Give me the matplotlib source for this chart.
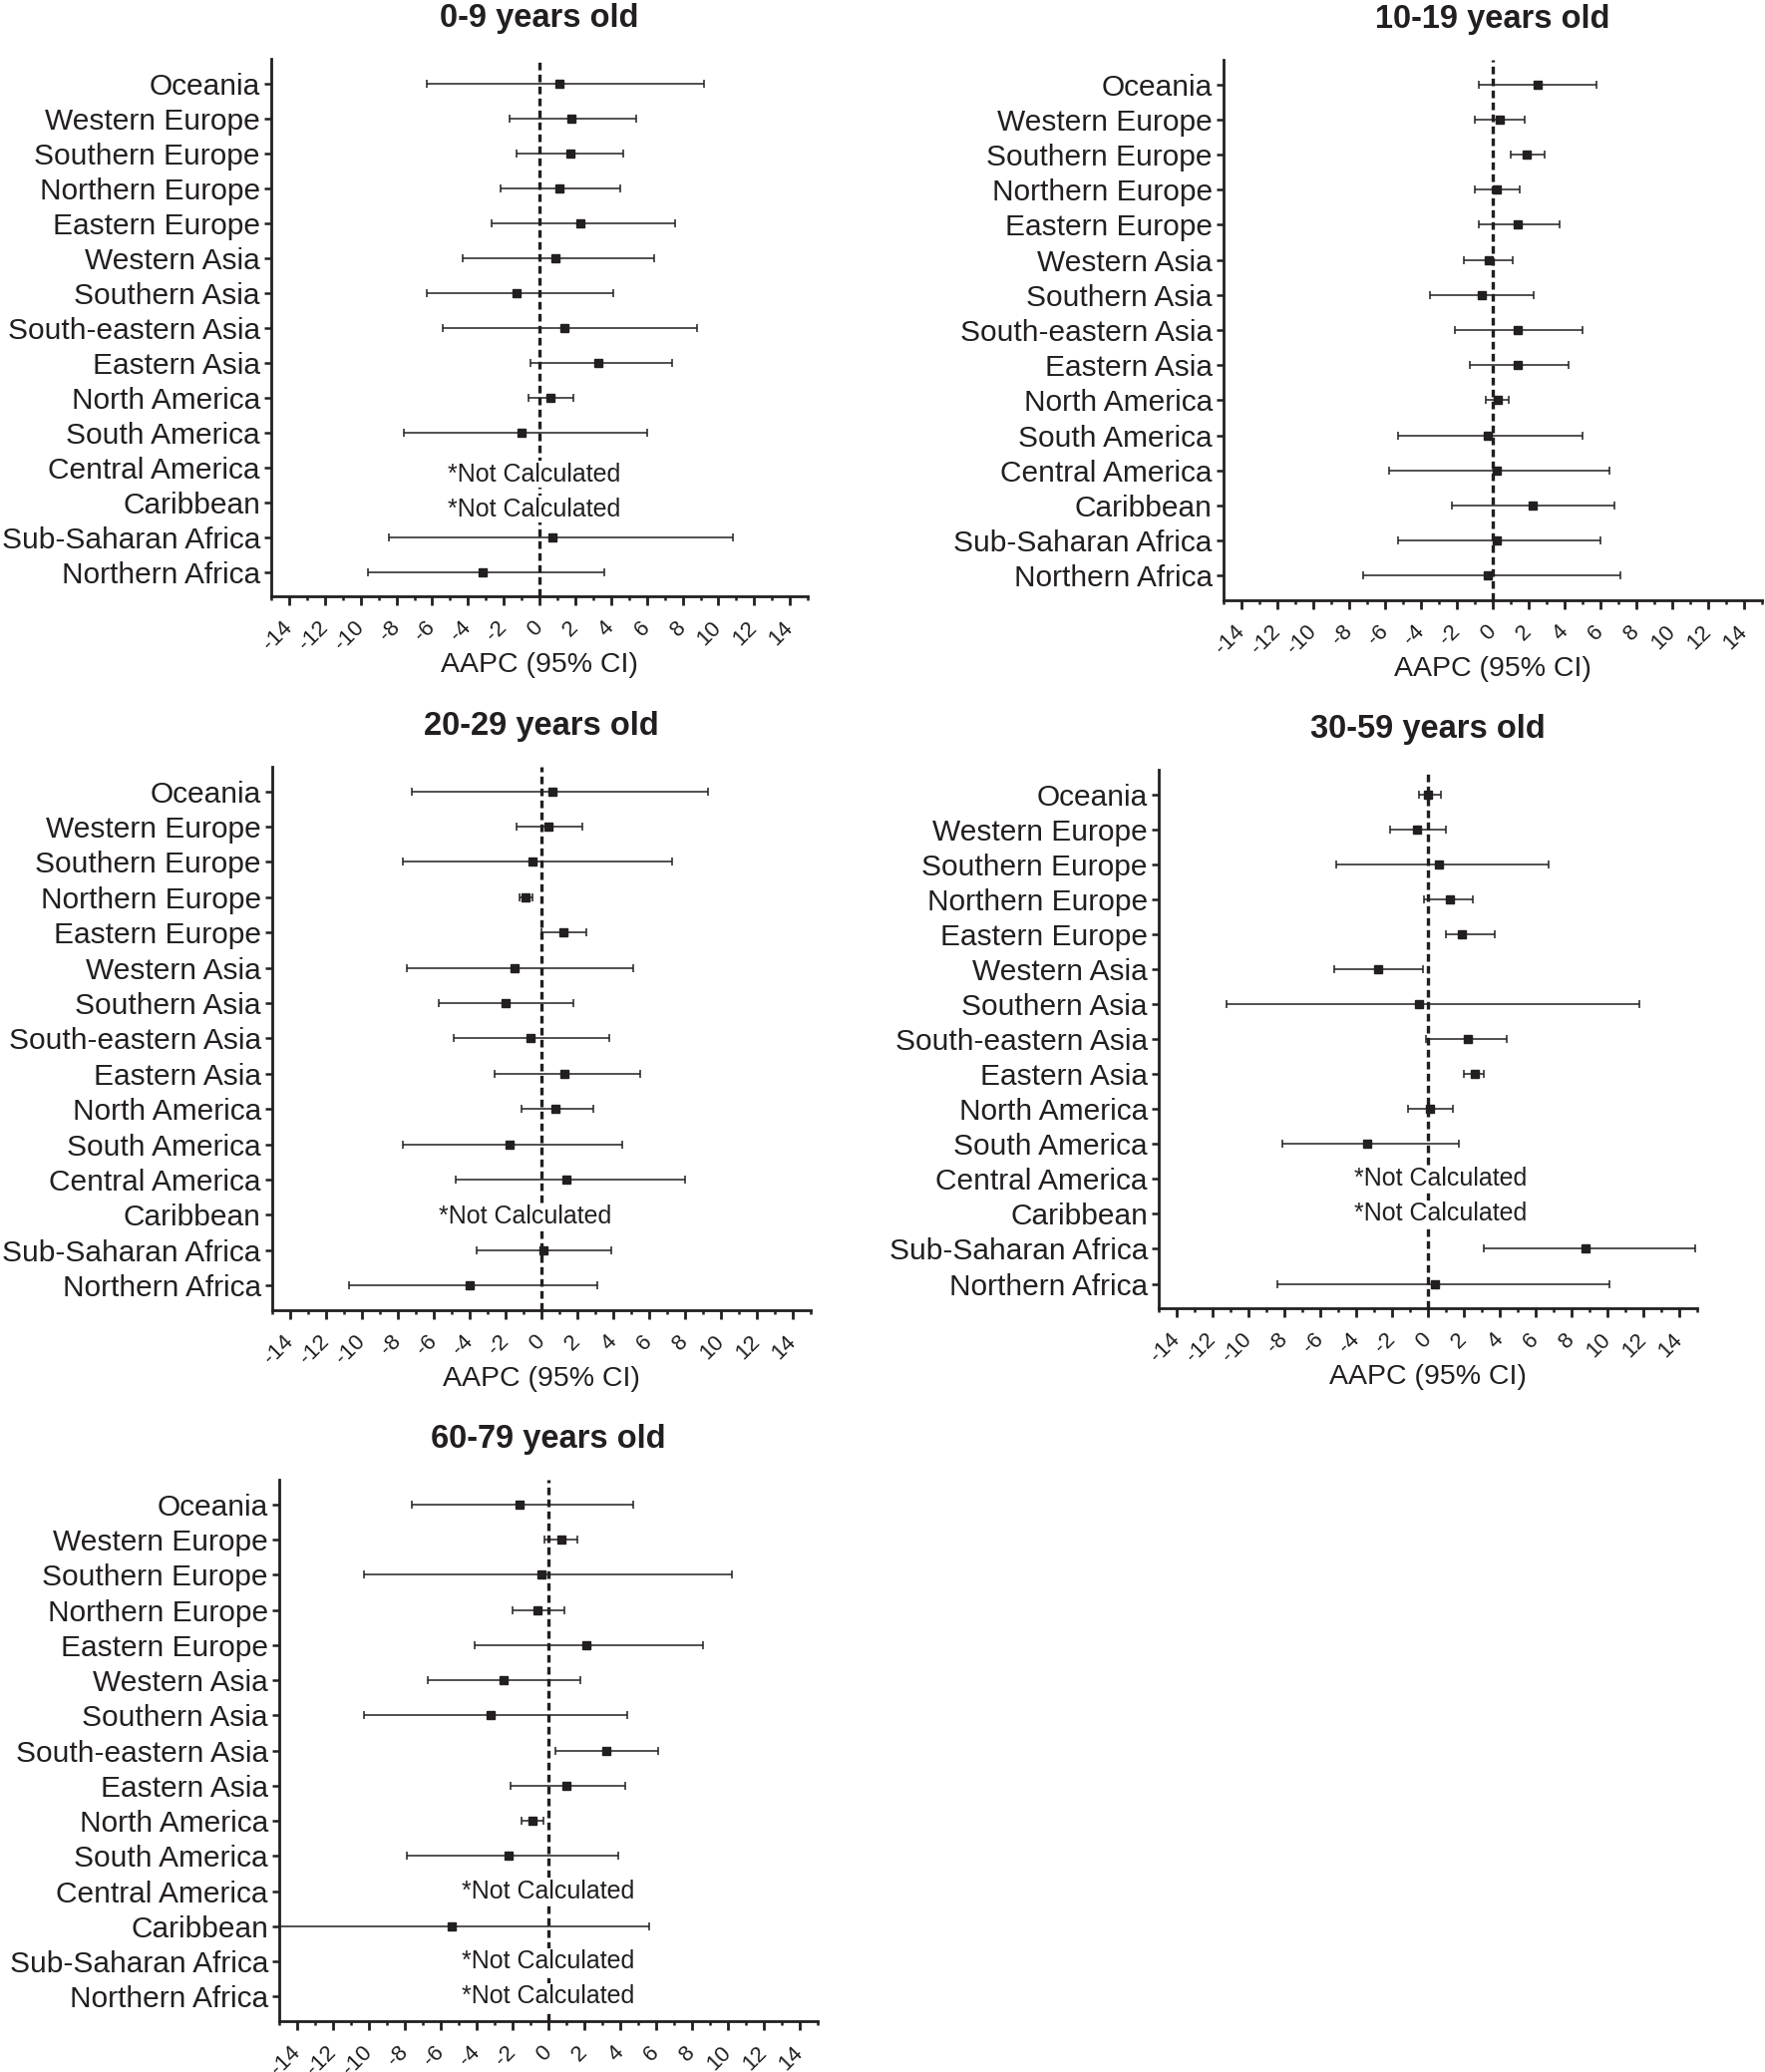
import numpy as np
import matplotlib.pyplot as plt
from matplotlib.ticker import MultipleLocator

plt.rcParams['font.family'] = ['Liberation Sans', 'DejaVu Sans']

INK = '#231f20'

regions = ['Oceania', 'Western Europe', 'Southern Europe', 'Northern Europe',
           'Eastern Europe', 'Western Asia', 'Southern Asia', 'South-eastern Asia',
           'Eastern Asia', 'North America', 'South America', 'Central America',
           'Caribbean', 'Sub-Saharan Africa', 'Northern Africa']
nan = np.nan

# AAPC point estimates and 95% CI bounds, one set per age group (nan = not calculated)
est_0_9 = [1.1, 1.8, 1.7, 1.1, 2.3, 0.9, -1.3, 1.4, 3.3, 0.6, -1.0, nan, nan, 0.7, -3.2]
lo_0_9 = [-6.3, -1.7, -1.3, -2.2, -2.7, -4.3, -6.3, -5.4, -0.5, -0.6, -7.6, nan, nan, -8.4, -9.6]
hi_0_9 = [9.2, 5.4, 4.7, 4.5, 7.6, 6.4, 4.1, 8.8, 7.4, 1.9, 6.0, nan, nan, 10.8, 3.6]

est_10_19 = [2.5, 0.4, 1.9, 0.2, 1.4, -0.2, -0.6, 1.4, 1.4, 0.3, -0.3, 0.2, 2.2, 0.2, -0.3]
lo_10_19 = [-0.8, -1.0, 1.0, -1.0, -0.8, -1.6, -3.5, -2.1, -1.3, -0.4, -5.3, -5.8, -2.3, -5.3, -7.2]
hi_10_19 = [5.8, 1.8, 2.9, 1.5, 3.7, 1.1, 2.3, 5.0, 4.2, 0.9, 5.0, 6.5, 6.8, 6.0, 7.1]

est_20_29 = [0.6, 0.4, -0.5, -0.9, 1.2, -1.5, -2.0, -0.6, 1.3, 0.8, -1.8, 1.4, nan, 0.1, -4.0]
lo_20_29 = [-7.2, -1.4, -7.7, -1.2, 0.0, -7.5, -5.7, -4.9, -2.6, -1.1, -7.7, -4.8, nan, -3.6, -10.7]
hi_20_29 = [9.3, 2.3, 7.3, -0.5, 2.5, 5.1, 1.8, 3.8, 5.5, 2.9, 4.5, 8.0, nan, 3.9, 3.1]

est_30_59 = [0.0, -0.6, 0.6, 1.2, 1.9, -2.8, -0.5, 2.2, 2.6, 0.1, -3.4, nan, nan, 8.8, 0.4]
lo_30_59 = [-0.5, -2.1, -5.1, -0.2, 1.0, -5.2, -11.2, -0.1, 2.0, -1.1, -8.1, nan, nan, 3.1, -8.4]
hi_30_59 = [0.7, 1.0, 6.7, 2.5, 3.7, -0.3, 11.8, 4.4, 3.1, 1.4, 1.7, nan, nan, 14.9, 10.1]

est_60_79 = [-1.6, 0.7, -0.4, -0.6, 2.1, -2.5, -3.2, 3.2, 1.0, -0.9, -2.2, nan, -5.4, nan, nan]
lo_60_79 = [-7.6, -0.2, -10.3, -2.0, -4.1, -6.7, -10.3, 0.4, -2.1, -1.5, -7.9, nan, -16.5, nan, nan]
hi_60_79 = [4.7, 1.6, 10.2, 0.9, 8.6, 1.8, 4.4, 6.1, 4.3, -0.3, 3.9, nan, 5.6, nan, nan]

titles = ['0-9 years old', '10-19 years old', '20-29 years old',
          '30-59 years old', '60-79 years old']

series = [(est_0_9, lo_0_9, hi_0_9), (est_10_19, lo_10_19, hi_10_19),
          (est_20_29, lo_20_29, hi_20_29), (est_30_59, lo_30_59, hi_30_59),
          (est_60_79, lo_60_79, hi_60_79)]

# layout: axes rectangles (figure fraction) and offsets of the "not calculated" notes
rects = [[0.1537, 0.7122, 0.3040, 0.2594],
         [0.6932, 0.7103, 0.3051, 0.2608],
         [0.1542, 0.3677, 0.3051, 0.2623],
         [0.6565, 0.3686, 0.3051, 0.2599],
         [0.1582, 0.0245, 0.3051, 0.2613]]
note_x = [-0.3, 0.0, -0.9, 0.7, 0.0]
note_dy = [0.2, 0.0, 0.05, 0.0, 0.0]

FIG_H = 2078
fig = plt.figure(figsize=(17.7, 20.78), dpi=100)

for title, (est, lo, hi), rect, nx, ndy in zip(titles, series, rects, note_x, note_dy):
    ax = fig.add_axes(rect)
    est, lo, hi = np.array(est), np.array(lo), np.array(hi)
    y = np.arange(len(regions))

    ax.axvline(0, color=INK, lw=2.4, ls=(0, (2.3, 1.3)), zorder=1)
    ax.errorbar(est, y, xerr=[est - lo, hi - est], fmt='s', color=INK,
                ecolor=INK, elinewidth=1.1, capsize=2.6, capthick=1.1,
                markersize=5.2, zorder=3)

    for i in np.where(np.isnan(est))[0]:
        ax.text(nx, y[i] + ndy, '*Not Calculated', ha='center', va='center',
                fontsize=18, color=INK, zorder=4,
                bbox=dict(facecolor='white', edgecolor='none', pad=1))

    ax.set_xlim(-15, 15)
    ax.set_ylim(len(regions) - 0.3, -0.7)
    ax.set_yticks(y)
    ax.set_yticklabels(regions, fontsize=21.5, color=INK)
    ax.set_xticks(np.arange(-14, 15, 2))
    ax.xaxis.set_minor_locator(MultipleLocator(1))
    ax.set_xticklabels([str(v) for v in range(-14, 15, 2)], rotation=45,
                       ha='right', va='center', rotation_mode='anchor',
                       fontsize=16, color=INK)
    ax.tick_params(axis='x', which='major', length=6.5, width=2, color=INK, pad=14)
    ax.tick_params(axis='x', which='minor', length=3, width=1.8, color=INK)
    ax.tick_params(axis='y', length=5, width=1.8, color=INK, pad=3)
    for s in ['top', 'right']:
        ax.spines[s].set_visible(False)
    for s in ['left', 'bottom']:
        ax.spines[s].set_linewidth(2)
        ax.spines[s].set_color(INK)
    ax.set_xlabel('AAPC (95% CI)', fontsize=20.5, color=INK)
    ax.xaxis.set_label_coords(0.5, -56 / (rect[3] * FIG_H))
    ax.set_title(title, fontsize=23.5, fontweight='bold', color=INK, pad=23)

fig.savefig('out.png', dpi=100)
